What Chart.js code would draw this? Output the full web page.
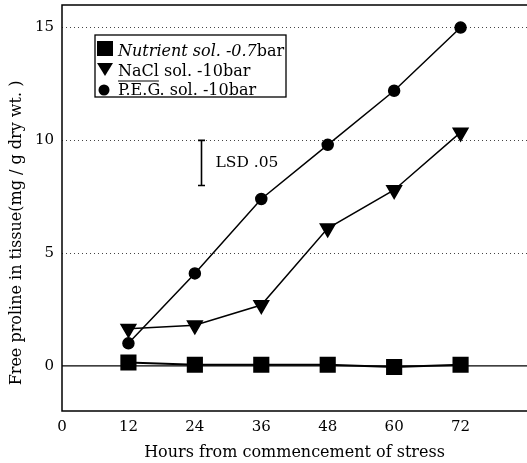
<!DOCTYPE html>
<html>
<head>
<meta charset="utf-8">
<script src="https://cdn.jsdelivr.net/npm/chart.js@4.4.0/dist/chart.umd.min.js"></script>
<style>
html, body { margin: 0; padding: 0; background: #fff; }
#wrap { width: 527px; height: 463px; }
</style>
</head>
<body>
<div id="wrap"><canvas id="chart"></canvas></div>
<script>
// --- DATA ---
const hours = [12, 24, 36, 48, 60, 72];
const nutrient = [0.15, 0.05, 0.05, 0.05, -0.05, 0.05];
const nacl = [1.65, 1.8, 2.7, 6.1, 7.8, 10.35];
const peg = [1.0, 4.1, 7.4, 9.8, 12.2, 15.0];
const xTicks = [0, 12, 24, 36, 48, 60, 72];
const yTicks = [0, 5, 10, 15];
const gridValues = [5, 10, 15];
const seriesLabels = ['Nutrient sol. -0.7bar', 'NaCl sol. -10bar', 'P.E.G. sol. -10bar'];
const yTitle = 'Free proline in tissue(mg / g dry wt. )';
const lsd = { x: 25.2, low: 8, high: 10, label: 'LSD .05' };

const SERIF = '"DejaVu Serif", "Liberation Serif", serif';

function pts(vals) {
    return hours.map((h, i) => ({ x: h, y: vals[i] }));
}

// --- FRAME, ZERO LINE, LSD BAR, Y TITLE ---
const framePlugin = {
    id: 'frame',
    beforeDatasetsDraw(chart) {
        const { ctx, chartArea: a, scales: { x, y } } = chart;
        ctx.save();
        ctx.strokeStyle = '#000';
        ctx.lineWidth = 1.5;
        ctx.beginPath();
        ctx.moveTo(a.right, a.top); ctx.lineTo(a.left, a.top);
        ctx.lineTo(a.left, a.bottom); ctx.lineTo(a.right, a.bottom);
        ctx.stroke();

        const y0 = y.getPixelForValue(0);
        ctx.lineWidth = 1.3;
        ctx.beginPath();
        ctx.moveTo(a.left, y0); ctx.lineTo(a.right, y0);
        ctx.stroke();

        // LSD bar
        const lx = x.getPixelForValue(lsd.x);
        const ly1 = y.getPixelForValue(lsd.high);
        const ly2 = y.getPixelForValue(lsd.low);
        ctx.lineWidth = 1.6;
        ctx.beginPath();
        ctx.moveTo(lx, ly1); ctx.lineTo(lx, ly2);
        ctx.moveTo(lx - 3.5, ly1); ctx.lineTo(lx + 3.5, ly1);
        ctx.moveTo(lx - 3.5, ly2); ctx.lineTo(lx + 3.5, ly2);
        ctx.stroke();
        ctx.fillStyle = '#000';
        ctx.font = '15.5px ' + SERIF;
        ctx.textBaseline = 'middle';
        ctx.fillText(lsd.label, lx + 14, (ly1 + ly2) / 2);

        // y title, sits a little below the axis centre like the original
        ctx.translate(17, (a.top + a.bottom) / 2 + 25);
        ctx.rotate(-Math.PI / 2);
        ctx.textAlign = 'center';
        ctx.font = '16px ' + SERIF;
        ctx.fillText(yTitle, 0, 0);
        ctx.restore();
    }
};

// --- LEGEND BOX ---
const legendPlugin = {
    id: 'boxLegend',
    afterDatasetsDraw(chart) {
        const { ctx, chartArea: a } = chart;
        const bx = a.left + 33, by = a.top + 30, bw = 191, bh = 62;
        ctx.save();
        ctx.fillStyle = '#fff';
        ctx.fillRect(bx, by, bw, bh);
        ctx.strokeStyle = '#000';
        ctx.lineWidth = 1.3;
        ctx.strokeRect(bx, by, bw, bh);
        ctx.fillStyle = '#000';
        const rows = [by + 14, by + 34, by + 54];
        const mx = bx + 10, tx = bx + 23;

        // square
        ctx.fillRect(mx - 8, rows[0] - 8, 16, 15);
        // down triangle
        ctx.beginPath();
        ctx.moveTo(mx - 8, rows[1] - 6); ctx.lineTo(mx + 8, rows[1] - 6); ctx.lineTo(mx, rows[1] + 7);
        ctx.closePath(); ctx.fill();
        // circle
        ctx.beginPath();
        ctx.arc(mx - 1, rows[2] + 1, 5.5, 0, Math.PI * 2);
        ctx.fill();

        ctx.textBaseline = 'middle';
        // row 1: italic part + upright unit
        const unit = 'bar';
        const first = seriesLabels[0].slice(0, -unit.length);
        ctx.font = 'italic 16px ' + SERIF;
        ctx.fillText(first, tx, rows[0] + 3);
        const w1 = ctx.measureText(first).width;
        ctx.font = '16px ' + SERIF;
        ctx.fillText(unit, tx + w1, rows[0] + 3);

        ctx.fillText(seriesLabels[1], tx, rows[1] + 3);
        const nw = ctx.measureText(seriesLabels[1].split(' ')[0]).width;
        ctx.lineWidth = 1;
        ctx.beginPath();
        ctx.moveTo(tx, rows[1] + 12); ctx.lineTo(tx + nw, rows[1] + 12);
        ctx.stroke();

        ctx.fillText(seriesLabels[2], tx, rows[2] + 2);
        ctx.restore();
    }
};

const common = {
    borderColor: '#000',
    backgroundColor: '#000',
    pointBackgroundColor: '#000',
    pointBorderColor: '#000',
    borderWidth: 1.5,
    tension: 0,
    fill: false
};

new Chart(document.getElementById('chart'), {
    type: 'line',
    data: {
        datasets: [
            { ...common, label: seriesLabels[0], data: pts(nutrient), pointStyle: 'rect', pointRadius: 10, borderWidth: 2 },
            { ...common, label: seriesLabels[1], data: pts(nacl), pointStyle: 'triangle', pointRotation: 180, pointRadius: 8.5 },
            { ...common, label: seriesLabels[2], data: pts(peg), pointStyle: 'circle', pointRadius: 5.5 }
        ]
    },
    options: {
        responsive: true,
        maintainAspectRatio: false,
        animation: false,
        layout: { autoPadding: false, padding: { top: 5, right: 0, left: 0, bottom: 0 } },
        plugins: { legend: { display: false }, tooltip: { enabled: false } },
        scales: {
            x: {
                type: 'linear',
                min: 0,
                max: 84,
                afterBuildTicks: s => { s.ticks = xTicks.map(v => ({ value: v })); },
                afterFit: s => { s.height = 52; s.paddingLeft = 0; s.paddingRight = 0; },
                grid: { display: false, drawTicks: false },
                border: { display: false },
                ticks: { color: '#000', font: { family: SERIF, size: 15 }, padding: 7, maxRotation: 0 },
                title: {
                    display: true,
                    text: 'Hours from commencement of stress',
                    color: '#000',
                    font: { family: SERIF, size: 16 },
                    padding: { top: 0, bottom: 1 }
                }
            },
            y: {
                min: -2,
                max: 16,
                afterBuildTicks: s => { s.ticks = yTicks.map(v => ({ value: v })); },
                afterFit: s => { s.width = 62; s.paddingTop = 0; s.paddingBottom = 0; },
                grid: {
                    drawTicks: false,
                    color: c => gridValues.includes(c.tick && c.tick.value) ? '#444' : 'rgba(0,0,0,0)',
                    lineWidth: 1
                },
                border: { display: false, dash: [1, 3] },
                ticks: { color: '#000', font: { family: SERIF, size: 15 }, padding: 8 },
                title: { display: false }
            }
        }
    },
    plugins: [framePlugin, legendPlugin]
});
</script>
</body>
</html>
